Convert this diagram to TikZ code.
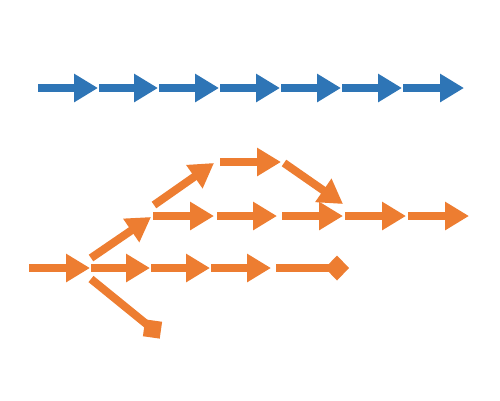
\documentclass[tikz,border=0pt]{standalone}
\usetikzlibrary{arrows.meta}
\definecolor{bl}{HTML}{2E75B6}
\definecolor{og}{HTML}{ED7D31}
\tikzset{
  arr/.style={line width=8pt, line cap=butt, -{Triangle[width=27pt,length=24pt]}},
  dia/.style={line width=8pt, line cap=butt, -{Turned Square[width=25pt,length=24pt]}},
  sqend/.style={fill=og, draw=none, minimum size=17pt, inner sep=0pt, rotate=-8}
}
\begin{document}
\begin{tikzpicture}[x=1pt,y=-1pt]
\useasboundingbox (0,0) rectangle (500,400);
% blue row
\foreach \i/\a/\b in {1/38/98,2/99/158,3/159/219,4/220/280,5/281/341,6/342/402,7/403/464}{
  \coordinate (b\i s) at (\a,88);
  \coordinate (b\i e) at (\b,88);
  \draw[arr,bl] (b\i s) -- (b\i e);
}
% orange bottom row
\foreach \i/\a/\b in {1/29/90,2/91/150,3/151/210,4/211/271}{
  \coordinate (r\i s) at (\a,268);
  \coordinate (r\i e) at (\b,268);
  \draw[arr,og] (r\i s) -- (r\i e);
}
\coordinate (r5s) at (276,268);
\coordinate (r5e) at (349,268);
\draw[dia,og] (r5s) -- (r5e);
% middle row
\foreach \i/\a/\b in {1/153/214,2/217/277,3/282/343,4/345/406,5/408/469}{
  \coordinate (m\i s) at (\a,216);
  \coordinate (m\i e) at (\b,216);
  \draw[arr,og] (m\i s) -- (m\i e);
}
% top row
\coordinate (t1s) at (220,162);
\coordinate (t1e) at (281,162);
\draw[arr,og] (t1s) -- (t1e);
% diagonals
\coordinate (d1s) at (91,258);
\coordinate (d1e) at (151,217);
\draw[arr,og] (d1s) -- (d1e);
\coordinate (d2s) at (154,205);
\coordinate (d2e) at (214,163);
\draw[arr,og] (d2s) -- (d2e);
\coordinate (d3s) at (284,163);
\coordinate (d3e) at (343,204);
\draw[arr,og] (d3s) -- (d3e);
\node[sqend] (sq) at (152.5,329) {};
\coordinate (d4s) at (91,279);
\draw[og, line width=8pt] (d4s) -- (sq.center);
\end{tikzpicture}
\end{document}
